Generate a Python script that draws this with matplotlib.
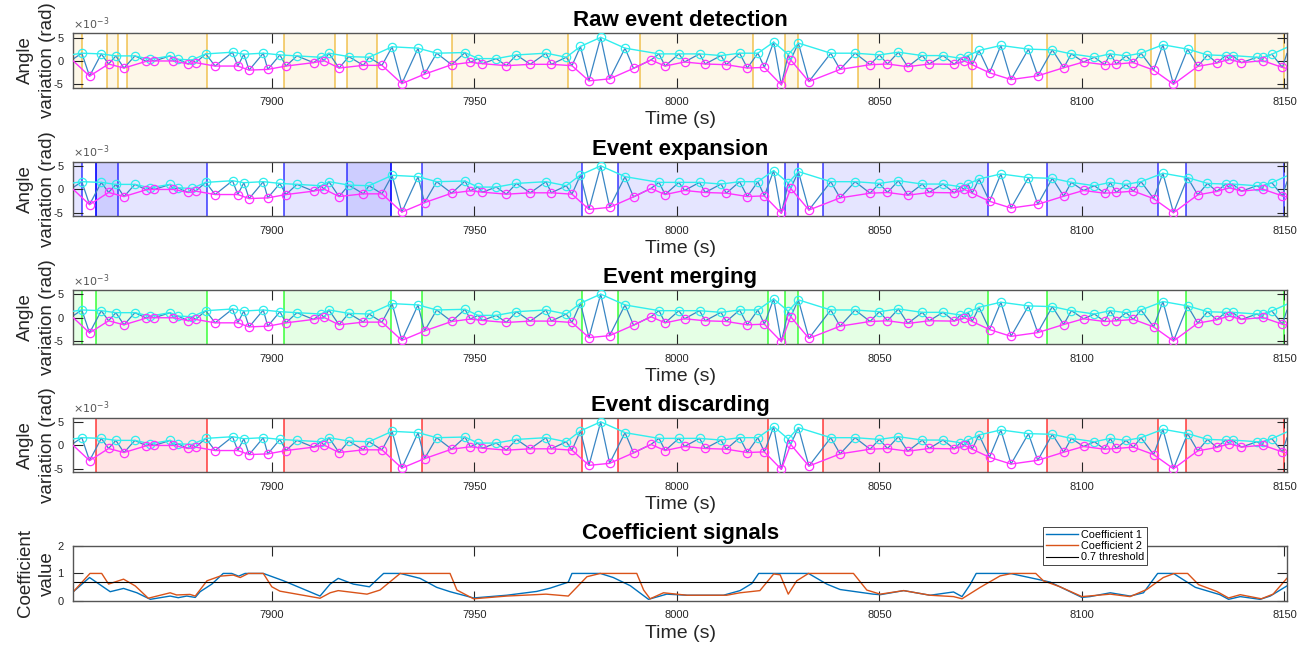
import numpy as np
import matplotlib
matplotlib.use('Agg')
import matplotlib.pyplot as plt

plt.rcParams['font.family'] = ['Liberation Sans', 'DejaVu Sans']
plt.rcParams['axes.unicode_minus'] = False

# upper envelope (peaks), time in s, angle variation in 1e-3 rad
# first and last entries are the edge values (no marker)
peak_t = [7851.0, 7853.1, 7857.9, 7861.5, 7866.2, 7869.9, 7874.9, 7876.8, 7880.3, 7883.7,
          7890.3, 7893.1, 7897.9, 7902.0, 7906.2, 7912.1, 7914.1, 7919.0, 7924.0, 7929.7,
          7936.1, 7940.7, 7947.7, 7950.9, 7955.4, 7960.4, 7967.7, 7972.7, 7976.2, 7981.2,
          7987.2, 7995.6, 8000.5, 8005.6, 8010.9, 8015.5, 8020.0, 8023.9, 8027.5, 8030.0,
          8038.0, 8044.0, 8050.0, 8054.7, 8060.6, 8065.7, 8070.0, 8071.9, 8074.6, 8080.0,
          8086.8, 8092.7, 8097.4, 8103.1, 8107.0, 8110.9, 8114.6, 8120.0, 8126.1, 8131.0,
          8135.5, 8137.2, 8143.2, 8144.8, 8146.9, 8150.6]
peak_v = [1.40, 1.67, 1.52, 1.09, 1.09, 0.36, 1.09, 0.36, 0.22, 1.52,
          1.88, 1.45, 1.67, 1.30, 1.09, 0.80, 1.67, 0.94, 0.80, 3.04,
          2.75, 1.67, 1.81, 0.51, 0.51, 1.30, 1.67, 0.80, 3.12, 5.07,
          2.75, 1.52, 1.52, 1.52, 1.16, 1.67, 1.67, 4.06, 1.38, 3.84,
          1.67, 1.67, 1.30, 1.88, 1.16, 1.16, 0.58, 1.16, 2.25, 3.33,
          2.54, 2.39, 1.52, 0.80, 1.52, 1.09, 1.67, 3.48, 2.54, 1.30,
          1.16, 1.16, 0.80, 0.80, 1.45, 2.90]

# lower envelope (troughs)
trough_t = [7851.0, 7855.0, 7859.7, 7863.5, 7869.0, 7871.0, 7875.7, 7879.4, 7881.2, 7886.0,
            7891.6, 7894.4, 7899.0, 7903.5, 7910.3, 7912.9, 7916.6, 7922.6, 7927.2, 7932.1,
            7937.7, 7944.4, 7949.0, 7952.0, 7957.9, 7963.8, 7969.0, 7974.1, 7978.3, 7983.4,
            7989.3, 7993.6, 7997.1, 8001.9, 8007.0, 8012.2, 8017.4, 8021.6, 8025.8, 8028.1,
            8032.6, 8040.3, 8047.7, 8052.0, 8057.0, 8062.3, 8068.5, 8071.0, 8072.9, 8077.2,
            8082.5, 8089.1, 8095.5, 8100.4, 8105.6, 8108.5, 8112.7, 8117.7, 8122.6, 8128.6,
            8133.3, 8136.4, 8139.4, 8144.6, 8149.5, 8150.6]
trough_v = [0.00, -3.26, -0.65, -1.52, -0.07, 0.00, 0.00, -0.65, -0.36, -1.09,
            -1.09, -1.96, -1.81, -1.09, -0.36, 0.07, -1.52, -0.94, -0.94, -4.86,
            -2.83, -0.80, -0.29, -0.58, -1.01, -0.72, -0.72, -1.01, -4.27, -3.84,
            -1.59, 0.22, -1.09, -0.22, -0.65, -0.80, -1.52, -1.38, -5.14, 0.22,
            -4.42, -1.81, -0.80, -0.65, -1.23, -0.65, -0.72, 0.00, -0.80, -2.54,
            -3.99, -3.19, -1.45, -0.22, -0.80, -0.65, -0.36, -1.96, -5.00, -1.16,
            -0.43, 0.36, -0.36, 0.07, -1.38, -1.60]

# signal end values
signal_edges_t = [7851.0, 8150.6]
signal_edges_v = [0.45, 1.60]

# event intervals for each stage (s)
raw_events = [(7850.5, 7853.1), (7859.3, 7862.1), (7864.3, 7884.0), (7903.0, 7915.6),
              (7918.6, 7925.9), (7944.6, 7973.1), (7990.8, 8018.7), (8026.6, 8029.8),
              (8044.8, 8072.8), (8091.3, 8117.1), (8128.0, 8150.0)]
expanded_events = [(7850.5, 7853.1), (7856.5, 7862.1), (7856.5, 7884.0), (7903.0, 7929.4),
                   (7918.6, 7929.4), (7937.2, 7976.7), (7985.4, 8022.6), (8026.6, 8029.8),
                   (8036.2, 8076.9), (8091.3, 8118.9), (8125.8, 8150.0)]
merged_events = [(7850.5, 7853.1), (7856.5, 7884.0), (7903.0, 7929.4), (7937.2, 7976.7),
                 (7985.4, 8022.6), (8026.6, 8029.8), (8036.2, 8076.9), (8091.3, 8118.9),
                 (8125.8, 8150.0)]
kept_events = [(7856.5, 7884.0), (7903.0, 7929.4), (7937.2, 7976.7), (7985.4, 8022.6),
               (8036.2, 8076.9), (8091.3, 8118.9), (8125.8, 8150.0)]

# coefficient signals
coef1_t = [7851.0, 7855.0, 7860.1, 7863.4, 7866.7, 7870.0, 7874.9, 7876.9, 7879.0, 7881.1,
           7882.3, 7885.2, 7888.0, 7890.1, 7891.8, 7893.4, 7897.9, 7902.9, 7911.9, 7914.4,
           7916.4, 7920.1, 7924.1, 7926.3, 7927.6, 7931.7, 7936.6, 7940.7, 7944.0, 7949.8,
           7958.0, 7965.4, 7968.7, 7973.2, 7974.1, 7981.1, 7984.3, 7988.5, 7993.0, 7997.5,
           8002.5, 8011.5, 8015.6, 8018.5, 8020.2, 8032.5, 8037.0, 8040.3, 8048.5, 8050.2,
           8056.0, 8062.5, 8068.3, 8070.4, 8072.4, 8073.9, 8082.3, 8088.9, 8092.2, 8100.0,
           8102.0, 8107.0, 8111.9, 8115.2, 8118.7, 8122.6, 8128.0, 8134.1, 8136.2, 8139.1,
           8144.0, 8146.5, 8150.6]
coef1_v = [0.33, 0.85, 0.33, 0.45, 0.29, 0.05, 0.17, 0.11, 0.17, 0.12,
           0.33, 0.61, 1.00, 1.00, 0.90, 1.00, 1.00, 0.73, 0.17, 0.61,
           0.82, 0.61, 0.51, 0.82, 1.00, 1.00, 0.82, 0.49, 0.33, 0.10,
           0.20, 0.34, 0.46, 0.68, 1.00, 1.00, 0.85, 0.55, 0.05, 0.24,
           0.20, 0.20, 0.37, 0.63, 1.00, 1.00, 0.61, 0.41, 0.24, 0.22,
           0.37, 0.20, 0.32, 0.15, 0.59, 1.00, 1.00, 0.79, 0.68, 0.12,
           0.15, 0.29, 0.17, 0.29, 1.00, 1.00, 0.49, 0.22, 0.05, 0.15,
           0.05, 0.17, 0.54]
coef2_t = [7851.0, 7855.1, 7858.0, 7859.7, 7863.4, 7866.3, 7869.5, 7874.9, 7876.5, 7879.8,
           7881.1, 7884.0, 7887.2, 7890.5, 7892.2, 7894.2, 7897.9, 7900.0, 7902.0, 7911.9,
           7914.4, 7916.4, 7923.5, 7926.7, 7931.7, 7944.0, 7945.7, 7949.8, 7958.0, 7967.7,
           7973.2, 7977.8, 7981.1, 7990.1, 7991.8, 7993.4, 7996.7, 8002.5, 8012.3, 8015.6,
           8020.5, 8023.9, 8025.5, 8027.5, 8029.6, 8032.5, 8043.6, 8046.9, 8050.2, 8056.0,
           8062.5, 8068.3, 8070.4, 8074.9, 8079.8, 8082.7, 8088.6, 8090.5, 8094.6, 8100.0,
           8107.0, 8111.9, 8116.0, 8120.1, 8122.8, 8126.1, 8128.8, 8133.3, 8136.2, 8139.1,
           8144.3, 8147.2, 8150.6]
coef2_v = [0.33, 1.00, 1.00, 0.61, 0.79, 0.54, 0.09, 0.29, 0.21, 0.23,
           0.17, 0.73, 0.90, 0.94, 0.85, 1.00, 1.00, 0.51, 0.35, 0.09,
           0.29, 0.37, 0.24, 0.39, 1.00, 1.00, 0.39, 0.07, 0.17, 0.24,
           0.17, 0.88, 1.00, 1.00, 0.39, 0.07, 0.29, 0.20, 0.20, 0.29,
           0.37, 0.98, 0.95, 0.24, 0.73, 1.00, 1.00, 0.39, 0.24, 0.37,
           0.20, 0.15, 0.07, 0.49, 0.91, 1.00, 1.00, 0.73, 0.51, 0.15,
           0.24, 0.15, 0.41, 0.85, 1.00, 1.00, 0.59, 0.34, 0.10, 0.22,
           0.07, 0.24, 0.82]
threshold = 0.7

xlim = (7851.0, 8150.6)
gray = '#262626'

stages = [
    ('Raw event detection', raw_events, '#EDB120'),
    ('Event expansion', expanded_events, '#0000FF'),
    ('Event merging', merged_events, '#00FF00'),
    ('Event discarding', kept_events, '#FF0000'),
]

# blue signal runs through every peak and trough
sig_t = np.concatenate([peak_t[1:-1], trough_t[1:-1], signal_edges_t])
sig_v = np.concatenate([peak_v[1:-1], trough_v[1:-1], signal_edges_v])
order = np.argsort(sig_t)
sig_t, sig_v = sig_t[order], sig_v[order]

fig = plt.figure(figsize=(13.05, 6.45), dpi=100)
left, width, height = 0.0562, 0.9299, 0.0845
bottoms = [0.8643, 0.6651, 0.4662, 0.2682, 0.0687]


def style_axes(ax):
    ax.set_xlim(*xlim)
    ax.set_xticks([7900, 7950, 8000, 8050, 8100, 8150])
    ax.tick_params(direction='in', length=7, width=0.8, colors=gray, labelsize=8,
                   top=True, right=True, pad=7)
    for s in ax.spines.values():
        s.set_color('#555555')
        s.set_linewidth(1.0)
    ax.set_xlabel('Time (s)', fontsize=14, color=gray, labelpad=3)


for i, (title, events, col) in enumerate(stages):
    ax = fig.add_axes([left, bottoms[i], width, height])
    for a, b in events:
        ax.axvspan(a, b, color=col, alpha=0.1, lw=0, zorder=0)
        for x in (a, b):
            if xlim[0] < x < xlim[1]:
                ax.axvline(x, color=col, alpha=0.65, lw=1.3, zorder=1)
    ax.plot(sig_t, sig_v, color='#3A86C4', lw=0.9, zorder=2)
    ax.plot(peak_t, peak_v, color='#30EEEE', lw=1.0, marker='o', ms=6, mfc='none',
            mew=0.9, markevery=slice(1, len(peak_t) - 1), zorder=3)
    ax.plot(trough_t, trough_v, color='#FF33FF', lw=1.0, marker='o', ms=6, mfc='none',
            mew=0.9, markevery=slice(1, len(trough_t) - 1), zorder=3)
    ax.set_ylim(-5.7, 6.0)
    ax.set_yticks([-5, 0, 5])
    ax.set_yticklabels(['-5', '0', '5'])
    style_axes(ax)
    ax.text(0.0, 1.02, r'$\times10^{-3}$', transform=ax.transAxes, fontsize=8,
            color='#555555', ha='left', va='bottom')
    ax.set_title(title, fontsize=16, fontweight='bold', pad=5)
    ax.set_ylabel('Angle\nvariation (rad)', fontsize=13.5, color=gray, linespacing=1.4)
    ax.yaxis.set_label_coords(-0.0145, 0.5)

ax = fig.add_axes([left, bottoms[4], width, height])
ax.plot(coef1_t, coef1_v, color='#0072BD', lw=1.0, label='Coefficient 1')
ax.plot(coef2_t, coef2_v, color='#D95319', lw=1.0, label='Coefficient 2')
ax.axhline(threshold, color='black', lw=0.8, label='0.7 threshold')
ax.set_ylim(0, 2)
ax.set_yticks([0, 1, 2])
style_axes(ax)
ax.set_title('Coefficient signals', fontsize=16, fontweight='bold', pad=5)
ax.set_ylabel('Coefficient\nvalue', fontsize=13.5, color=gray, linespacing=1.4)
ax.yaxis.set_label_coords(-0.0145, 0.5)
leg = ax.legend(loc='upper right', bbox_to_anchor=(0.885, 1.35), fontsize=7.8,
                handlelength=2.9, handletextpad=0.35, borderpad=0.25, labelspacing=0.12,
                fancybox=False, framealpha=1, edgecolor=gray, borderaxespad=0)
leg.get_frame().set_linewidth(0.6)

plt.savefig('out.png', dpi=100)
